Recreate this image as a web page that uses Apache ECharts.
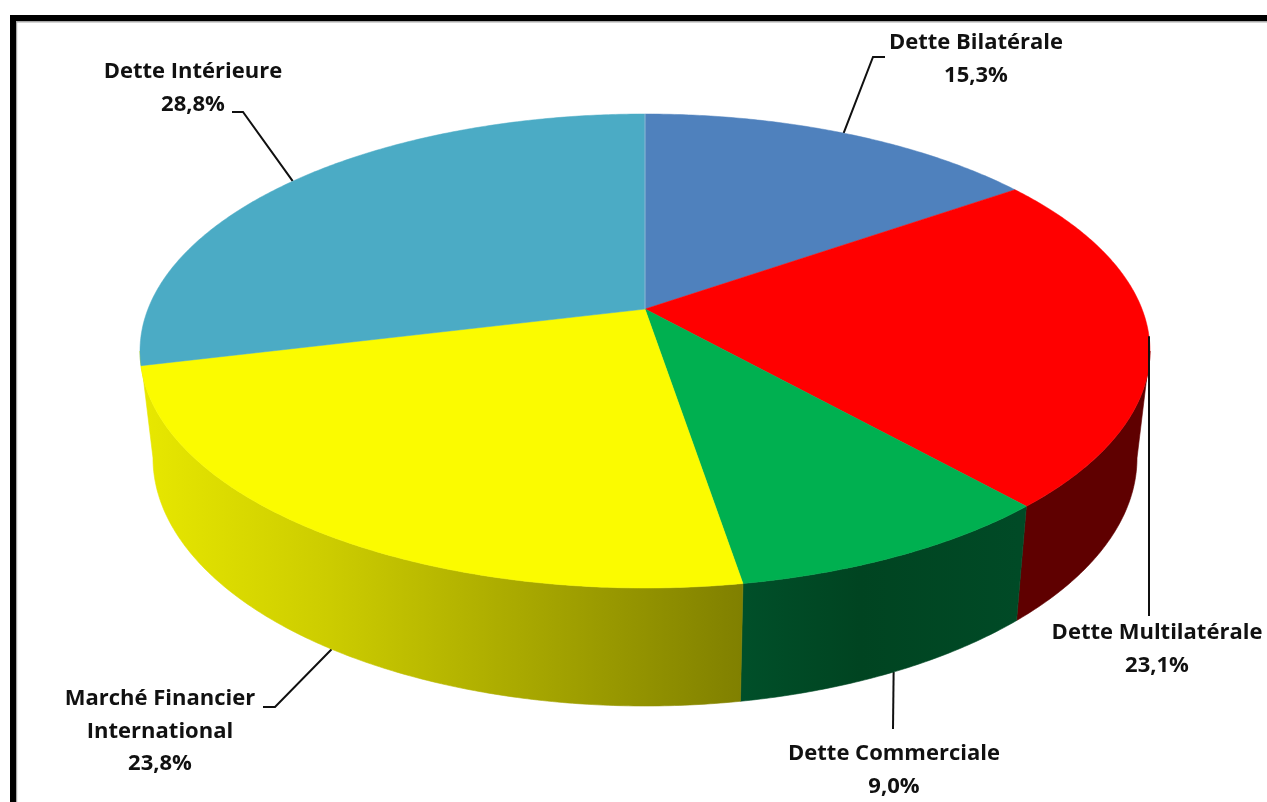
<!DOCTYPE html>
<html lang="fr">
<head>
<meta charset="utf-8">
<title>Structure de la dette</title>
<script src="https://cdn.jsdelivr.net/npm/echarts@6/dist/echarts.min.js"></script>
<style>
  html, body { margin: 0; padding: 0; background: #fff; }
  #chart { width: 1267px; height: 802px; }
</style>
</head>
<body>
<div id="chart"></div>
<script>
// Share of each debt type, clockwise from twelve o'clock.
const categories = ['Dette Bilatérale', 'Dette Multilatérale', 'Dette Commerciale', 'Marché Financier\nInternational', 'Dette Intérieure'];
const shares = [15.3, 23.1, 9.0, 23.8, 28.8];

const topColors = ['#4f81bd', '#ff0000', '#00b050', '#fbfb00', '#4babc5'];
// Wall shading as [x, colour] stops, running left to right across the page.
const wallStops = [
  [[0, '#2a4566']],
  [[0, '#5f0000']],
  [[744, '#004f29'], [860, '#004421'], [1020, '#004a26']],
  [[140, '#e8e800'], [330, '#cccc00'], [742, '#808000']],
  [[0, '#28606e']]
];

// Rim outlines of the tilted disc: pixel centre and radii of both ellipses.
const topRim = { cx: 645, cy: 351, rx: 505, ry: 237 };
const baseRim = { cx: 645, cy: 458, rx: 492, ry: 248 };
const tilt = 0.177; // how far the perspective moves the pie's centre up the ellipse

// Label blocks and the free end of their leader lines, in pixels.
const labelBoxes = [
  { x: 976, y: 43, leader: [[873, 57], [885, 57]], rim: 'top' },
  { x: 1157, y: 633, leader: [[1149, 616]], rim: 'top', front: true },
  { x: 894, y: 754, leader: [[893, 729]], rim: 'base' },
  { x: 160, y: 699, leader: [[275, 707], [263, 707]], rim: 'base' },
  { x: 193, y: 72, leader: [[243, 112], [232, 112]], rim: 'top' }
];
const labelLineHeight = 32.6;
const labelFont = 'bold 22px "Open Sans", sans-serif';

const total = shares.reduce((a, b) => a + b, 0);
const startShare = shares.map((_, i) => shares.slice(0, i).reduce((a, b) => a + b, 0));

// Part of the turn whose outer wall faces the viewer: between the two points
// where the rim reaches its widest, which is where the page-space tangents fall.
const frontStart = 0.5 - Math.acos(tilt) / (2 * Math.PI);
const frontEnd = 0.5 + Math.acos(tilt) / (2 * Math.PI);

// Projects a clockwise fraction of the full turn onto a rim through a disc perspective.
function rimPoint(rim, fraction) {
  const t = fraction * 2 * Math.PI;
  const u = Math.sin(t);
  const v = -Math.cos(t);
  const d = 1 - tilt * v;
  const X = u * Math.sqrt(1 - tilt * tilt) / d;
  const Y = (v - tilt) / d;
  return [rim.cx + rim.rx * X, rim.cy + rim.ry * Y];
}

function arc(rim, from, to) {
  const n = Math.max(4, Math.ceil((to - from) * 720));
  const pts = [];
  for (let k = 0; k <= n; k++) pts.push(rimPoint(rim, from + (to - from) * k / n));
  return pts;
}

const pieCentre = [topRim.cx, topRim.cy - tilt * topRim.ry];

function wallFill(i) {
  const stops = wallStops[i];
  if (stops.length === 1) return stops[0][1];
  const x0 = stops[0][0];
  const x1 = stops[stops.length - 1][0];
  return new echarts.graphic.LinearGradient(x0, 0, x1, 0,
    stops.map(s => ({ offset: (s[0] - x0) / (x1 - x0), color: s[1] })), true);
}

function renderWall(params, api) {
  const i = api.value(0);
  let from = startShare[i] / total;
  let to = from + api.value(1) / total;
  const mid = (from + to) / 2;
  // Slices turned away from the viewer have no visible wall.
  if (to <= frontStart || mid >= frontEnd) return null;
  // The first front slice starts its wall on the right-hand tangent...
  from = Math.max(from, frontStart);
  // ...and the last one carries it round to the left-hand tangent.
  if (to < frontEnd) {
    const next = (i + 1) % shares.length;
    const nextMid = (startShare[next] + shares[next] / 2) / total;
    if (nextMid >= frontEnd) to = frontEnd;
  }
  const outer = arc(topRim, from, to);
  const inner = arc(baseRim, from, to).reverse();
  const fill = wallFill(i);
  return {
    type: 'polygon',
    shape: { points: outer.concat(inner) },
    style: { fill: fill, stroke: fill, lineWidth: 0.6 }
  };
}

function renderTop(params, api) {
  const i = api.value(0);
  const from = startShare[i] / total;
  const to = from + api.value(1) / total;
  return {
    type: 'polygon',
    shape: { points: [pieCentre].concat(arc(topRim, from, to)) },
    style: { fill: topColors[i], stroke: topColors[i], lineWidth: 0.5 }
  };
}

function renderLeader(params, api) {
  const i = api.value(0);
  const box = labelBoxes[i];
  const mid = (startShare[i] + api.value(1) / 2) / total;
  const start = rimPoint(box.rim === 'top' ? topRim : baseRim, mid);
  return {
    type: 'polyline',
    shape: { points: [start].concat(box.leader) },
    style: { fill: null, stroke: '#101010', lineWidth: 2 }
  };
}

function renderLabel(params, api) {
  const i = api.value(0);
  const box = labelBoxes[i];
  const pct = api.value(1).toFixed(1).replace('.', ',') + '%';
  const lines = categories[i].split('\n').concat(pct);
  return {
    type: 'group',
    children: lines.map((line, k) => ({
      type: 'text',
      style: {
        text: line,
        x: box.x,
        y: box.y + k * labelLineHeight,
        font: labelFont,
        fill: '#111111',
        align: 'center',
        verticalAlign: 'middle'
      }
    }))
  };
}

const rows = shares.map((v, i) => [i, v]);
const frontRows = rows.filter(r => labelBoxes[r[0]].front);
const backRows = rows.filter(r => !labelBoxes[r[0]].front);

function layer(data, renderItem, z) {
  return {
    type: 'custom',
    coordinateSystem: 'none',
    data: data,
    renderItem: renderItem,
    z: z,
    silent: true,
    animation: false,
    clip: false
  };
}

const chart = echarts.init(document.getElementById('chart'), null, { renderer: 'canvas' });
chart.setOption({
  backgroundColor: '#ffffff',
  animation: false,
  tooltip: { show: false },
  graphic: [
    // Heavy frame along the top and left, with its faint inner shadow.
    { type: 'rect', z: 0, shape: { x: 16, y: 21, width: 1251, height: 1.5 }, style: { fill: '#a8a8a8' } },
    { type: 'rect', z: 0, shape: { x: 16, y: 21, width: 1.2, height: 781 }, style: { fill: '#a8a8a8' } },
    { type: 'rect', z: 0, shape: { x: 10, y: 15, width: 1257, height: 6 }, style: { fill: '#000' } },
    { type: 'rect', z: 0, shape: { x: 10, y: 15, width: 6, height: 787 }, style: { fill: '#000' } },
    // Pale seam where the last slice meets the first.
    { type: 'line', z: 10, shape: { x1: pieCentre[0], y1: pieCentre[1], x2: rimPoint(topRim, 0)[0], y2: rimPoint(topRim, 0)[1] },
      style: { stroke: '#8fb4d4', lineWidth: 1 } }
  ],
  series: [
    layer(backRows, renderLeader, 1),
    layer(rows, renderWall, 2),
    layer(rows, renderTop, 3),
    layer(frontRows, renderLeader, 4),
    layer(rows, renderLabel, 5)
  ]
});
</script>
</body>
</html>
